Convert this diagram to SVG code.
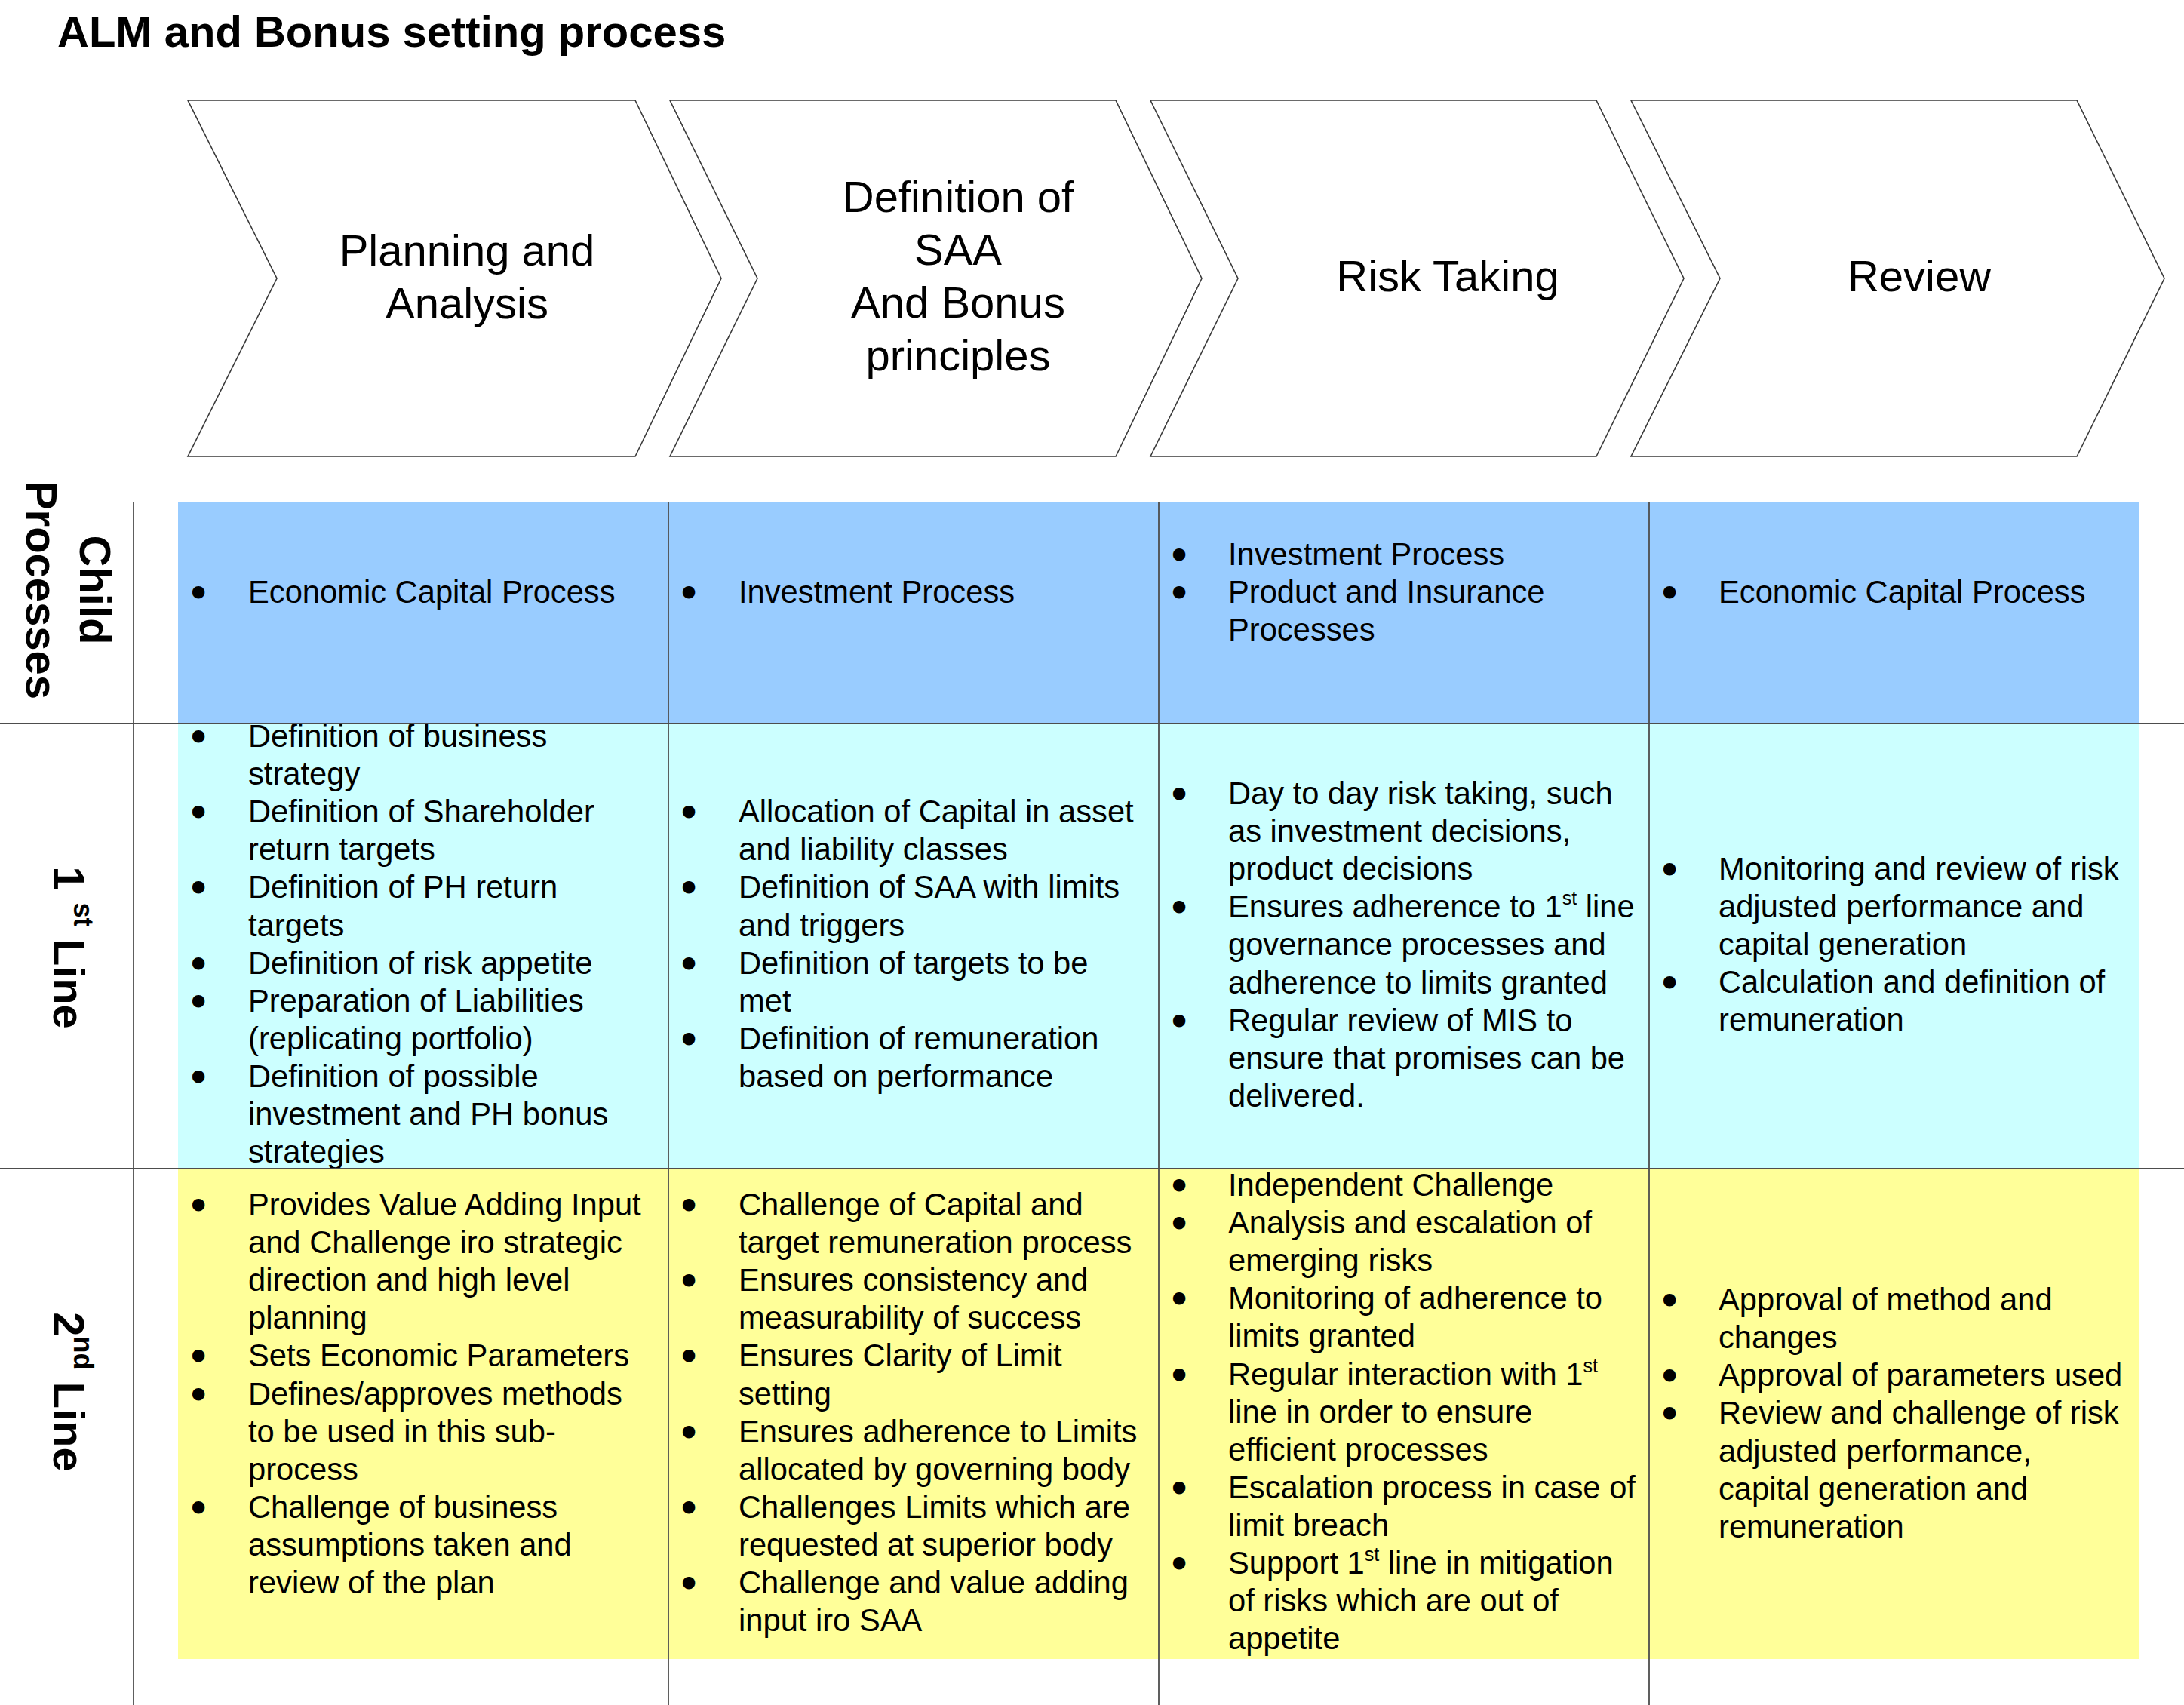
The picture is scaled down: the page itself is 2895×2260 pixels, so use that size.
<svg xmlns="http://www.w3.org/2000/svg" width="2895" height="2260" viewBox="0 0 2895 2260">
<style>
text{font-family:"Liberation Sans",Arial,Helvetica,sans-serif;fill:#000}
.title{font-size:58px;font-weight:bold}
.chev{fill:#fff;stroke:#3a3a3a;stroke-width:1.6}
.ct{font-size:58px;text-anchor:middle}
.lab{font-size:58px;font-weight:bold;text-anchor:middle}
.sl{font-size:36px}
.b{font-size:41.7px}
.bl{font-size:42px;text-anchor:middle;stroke:#000;stroke-width:5;stroke-linejoin:round}
.sup{font-size:25px}
.grid line{stroke:#4d4d4d;stroke-width:1.8}
</style>
<rect width="2895" height="2260" fill="#fff"/>
<text class="title" x="76" y="62">ALM and Bonus setting process</text>

<g id="chevron-planning">
<polygon class="chev" points="249,133 842,133 956,369 842,605 249,605 367,369"/>
<text class="ct"><tspan x="619" y="352">Planning and</tspan><tspan x="619" y="422">Analysis</tspan></text>
</g>
<g id="chevron-saa">
<polygon class="chev" points="888,133 1479,133 1593,369 1479,605 888,605 1004,369"/>
<text class="ct"><tspan x="1270" y="281">Definition of</tspan><tspan x="1270" y="351">SAA</tspan><tspan x="1270" y="421">And Bonus</tspan><tspan x="1270" y="491">principles</tspan></text>
</g>
<g id="chevron-risk">
<polygon class="chev" points="1525,133 2116,133 2232,369 2116,605 1525,605 1641,369"/>
<text class="ct" x="1919" y="386">Risk Taking</text>
</g>
<g id="chevron-review">
<polygon class="chev" points="2162,133 2753,133 2869,369 2753,605 2162,605 2280,369"/>
<text class="ct" x="2544" y="386">Review</text>
</g>

<g id="bands">
<rect x="236" y="665" width="2599" height="294" fill="#99CCFF"/>
<rect x="236" y="959" width="2599" height="590" fill="#CCFFFF"/>
<rect x="236" y="1549" width="2599" height="650" fill="#FFFF99"/>
</g>

<g id="label-child">
<text class="lab" transform="translate(106,782) rotate(90)"><tspan x="0" y="0">Child</tspan><tspan x="0" y="71">Processes</tspan></text>
</g>
<g id="label-1st">
<text class="lab" transform="translate(71,1256) rotate(90)">1 <tspan class="sl" dy="-27">st</tspan><tspan dy="27"> Line</tspan></text>
</g>
<g id="label-2nd">
<text class="lab" transform="translate(71,1845) rotate(90)">2<tspan class="sl" dy="-27">nd</tspan><tspan dy="27"> Line</tspan></text>
</g>

<g id="cell-child-1">
<text class="bl" x="263" y="799">•</text>
<text class="b" x="329" y="799">Economic Capital Process</text>
</g>
<g id="cell-child-2">
<text class="bl" x="913" y="799">•</text>
<text class="b" x="979" y="799">Investment Process</text>
</g>
<g id="cell-child-3">
<text class="bl"><tspan x="1563" y="749">•</tspan><tspan x="1563" y="799">•</tspan></text>
<text class="b"><tspan x="1628" y="749">Investment Process</tspan><tspan x="1628" y="799">Product and Insurance</tspan><tspan x="1628" y="849">Processes</tspan></text>
</g>
<g id="cell-child-4">
<text class="bl" x="2213" y="799">•</text>
<text class="b" x="2278" y="799">Economic Capital Process</text>
</g>

<g id="cell-1st-1">
<text class="bl"><tspan x="263" y="990">•</tspan><tspan x="263" y="1090">•</tspan><tspan x="263" y="1190">•</tspan><tspan x="263" y="1291">•</tspan><tspan x="263" y="1341">•</tspan><tspan x="263" y="1441">•</tspan></text>
<text class="b"><tspan x="329" y="990">Definition of business</tspan><tspan x="329" y="1040">strategy</tspan><tspan x="329" y="1090">Definition of Shareholder</tspan><tspan x="329" y="1140">return targets</tspan><tspan x="329" y="1190">Definition of PH return</tspan><tspan x="329" y="1241">targets</tspan><tspan x="329" y="1291">Definition of risk appetite</tspan><tspan x="329" y="1341">Preparation of Liabilities</tspan><tspan x="329" y="1391">(replicating portfolio)</tspan><tspan x="329" y="1441">Definition of possible</tspan><tspan x="329" y="1491">investment and PH bonus</tspan><tspan x="329" y="1541">strategies</tspan></text>
</g>
<g id="cell-1st-2">
<text class="bl"><tspan x="913" y="1090">•</tspan><tspan x="913" y="1190">•</tspan><tspan x="913" y="1291">•</tspan><tspan x="913" y="1391">•</tspan></text>
<text class="b"><tspan x="979" y="1090">Allocation of Capital in asset</tspan><tspan x="979" y="1140">and liability classes</tspan><tspan x="979" y="1190">Definition of SAA with limits</tspan><tspan x="979" y="1241">and triggers</tspan><tspan x="979" y="1291">Definition of targets to be</tspan><tspan x="979" y="1341">met</tspan><tspan x="979" y="1391">Definition of remuneration</tspan><tspan x="979" y="1441">based on performance</tspan></text>
</g>
<g id="cell-1st-3">
<text class="bl"><tspan x="1563" y="1066">•</tspan><tspan x="1563" y="1216">•</tspan><tspan x="1563" y="1367">•</tspan></text>
<text class="b"><tspan x="1628" y="1066">Day to day risk taking, such</tspan><tspan x="1628" y="1116">as investment decisions,</tspan><tspan x="1628" y="1166">product decisions</tspan><tspan x="1628" y="1216">Ensures adherence to 1</tspan><tspan class="sup" dy="-17">st</tspan><tspan dy="17"> line</tspan><tspan x="1628" y="1266">governance processes and</tspan><tspan x="1628" y="1317">adherence to limits granted</tspan><tspan x="1628" y="1367">Regular review of MIS to</tspan><tspan x="1628" y="1417">ensure that promises can be</tspan><tspan x="1628" y="1467">delivered.</tspan></text>
</g>
<g id="cell-1st-4">
<text class="bl"><tspan x="2213" y="1166">•</tspan><tspan x="2213" y="1316">•</tspan></text>
<text class="b"><tspan x="2278" y="1166">Monitoring and review of risk</tspan><tspan x="2278" y="1216">adjusted performance and</tspan><tspan x="2278" y="1266">capital generation</tspan><tspan x="2278" y="1316">Calculation and definition of</tspan><tspan x="2278" y="1366">remuneration</tspan></text>
</g>

<g id="cell-2nd-1">
<text class="bl"><tspan x="263" y="1611">•</tspan><tspan x="263" y="1811">•</tspan><tspan x="263" y="1862">•</tspan><tspan x="263" y="2012">•</tspan></text>
<text class="b"><tspan x="329" y="1611">Provides Value Adding Input</tspan><tspan x="329" y="1661">and Challenge iro strategic</tspan><tspan x="329" y="1711">direction and high level</tspan><tspan x="329" y="1761">planning</tspan><tspan x="329" y="1811">Sets Economic Parameters</tspan><tspan x="329" y="1862">Defines/approves methods</tspan><tspan x="329" y="1912">to be used in this sub-</tspan><tspan x="329" y="1962">process</tspan><tspan x="329" y="2012">Challenge of business</tspan><tspan x="329" y="2062">assumptions taken and</tspan><tspan x="329" y="2112">review of the plan</tspan></text>
</g>
<g id="cell-2nd-2">
<text class="bl"><tspan x="913" y="1611">•</tspan><tspan x="913" y="1711">•</tspan><tspan x="913" y="1811">•</tspan><tspan x="913" y="1912">•</tspan><tspan x="913" y="2012">•</tspan><tspan x="913" y="2112">•</tspan></text>
<text class="b"><tspan x="979" y="1611">Challenge of Capital and</tspan><tspan x="979" y="1661">target remuneration process</tspan><tspan x="979" y="1711">Ensures consistency and</tspan><tspan x="979" y="1761">measurability of success</tspan><tspan x="979" y="1811">Ensures Clarity of Limit</tspan><tspan x="979" y="1862">setting</tspan><tspan x="979" y="1912">Ensures adherence to Limits</tspan><tspan x="979" y="1962">allocated by governing body</tspan><tspan x="979" y="2012">Challenges Limits which are</tspan><tspan x="979" y="2062">requested at superior body</tspan><tspan x="979" y="2112">Challenge and value adding</tspan><tspan x="979" y="2162">input iro SAA</tspan></text>
</g>
<g id="cell-2nd-3">
<text class="bl"><tspan x="1563" y="1585">•</tspan><tspan x="1563" y="1635">•</tspan><tspan x="1563" y="1735">•</tspan><tspan x="1563" y="1836">•</tspan><tspan x="1563" y="1986">•</tspan><tspan x="1563" y="2086">•</tspan></text>
<text class="b"><tspan x="1628" y="1585">Independent Challenge</tspan><tspan x="1628" y="1635">Analysis and escalation of</tspan><tspan x="1628" y="1685">emerging risks</tspan><tspan x="1628" y="1735">Monitoring of adherence to</tspan><tspan x="1628" y="1785">limits granted</tspan><tspan x="1628" y="1836">Regular interaction with 1</tspan><tspan class="sup" dy="-17">st</tspan><tspan x="1628" y="1886">line in order to ensure</tspan><tspan x="1628" y="1936">efficient processes</tspan><tspan x="1628" y="1986">Escalation process in case of</tspan><tspan x="1628" y="2036">limit breach</tspan><tspan x="1628" y="2086">Support 1</tspan><tspan class="sup" dy="-17">st</tspan><tspan dy="17"> line in mitigation</tspan><tspan x="1628" y="2136">of risks which are out of</tspan><tspan x="1628" y="2186">appetite</tspan></text>
</g>
<g id="cell-2nd-4">
<text class="bl"><tspan x="2213" y="1737">•</tspan><tspan x="2213" y="1837">•</tspan><tspan x="2213" y="1887">•</tspan></text>
<text class="b"><tspan x="2278" y="1737">Approval of method and</tspan><tspan x="2278" y="1787">changes</tspan><tspan x="2278" y="1837">Approval of parameters used</tspan><tspan x="2278" y="1887">Review and challenge of risk</tspan><tspan x="2278" y="1938">adjusted performance,</tspan><tspan x="2278" y="1988">capital generation and</tspan><tspan x="2278" y="2038">remuneration</tspan></text>
</g>

<g id="connectors" class="grid">
<line x1="177" y1="665" x2="177" y2="2260"/>
<line x1="886" y1="665" x2="886" y2="2260"/>
<line x1="1536" y1="665" x2="1536" y2="2260"/>
<line x1="2186" y1="665" x2="2186" y2="2260"/>
<line x1="0" y1="959" x2="2895" y2="959"/>
<line x1="0" y1="1549" x2="2895" y2="1549"/>
</g>
</svg>
